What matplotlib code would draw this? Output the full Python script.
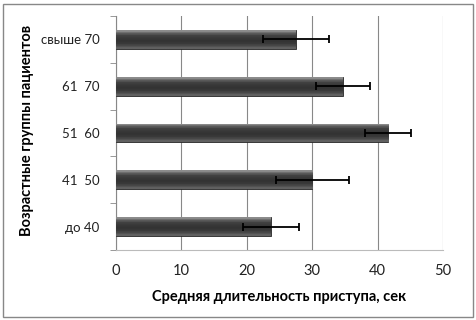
import numpy as np
import matplotlib.pyplot as plt
from matplotlib.patches import Rectangle

# age groups (bottom to top) and mean attack duration with error
groups = ["до 40", "41  50", "51  60", "61  70", "свыше 70"]
means = [23.7, 30.0, 41.6, 34.7, 27.5]
errs = [4.3, 5.6, 3.5, 4.1, 5.0]

plt.rcParams['font.family'] = ['Lato', 'DejaVu Sans']

fig = plt.figure(figsize=(4.76, 3.2), dpi=100)
ax = fig.add_axes([116/476, 70/320, 327/476, 234/320])

ypos = np.arange(len(groups))
bars = ax.barh(ypos, means, height=0.4, color="#3c3c3c", edgecolor="#2a2a2a",
               linewidth=0.6, zorder=3)

# vertical gradient to mimic the shaded bars
grad = np.array([0.55, 0.35, 0.25, 0.22, 0.2, 0.22, 0.28, 0.38]).reshape(-1, 1)
for b in bars:
    x0, y0, w, h = b.get_x(), b.get_y(), b.get_width(), b.get_height()
    im = ax.imshow(grad, cmap="gray", vmin=0, vmax=1, aspect="auto",
                   extent=(x0, x0 + w, y0, y0 + h), origin="upper", zorder=4)
    im.set_clip_path(b)

ax.errorbar(means, ypos, xerr=errs, fmt="none", ecolor="black", elinewidth=1.3,
            capsize=3, capthick=1.3, zorder=5)

ax.set_xlim(0, 50)
ax.set_ylim(-0.5, 4.5)
ax.set_xticks([0, 10, 20, 30, 40, 50])
ax.set_yticks(ypos)
ax.set_yticklabels(groups)
ax.set_yticks(np.arange(-0.5, 5, 1), minor=True)
ax.tick_params(axis="y", which="major", length=0, pad=12, labelsize=9.5, colors="#222222")
ax.tick_params(axis="y", which="minor", length=4, direction="out", color="#888888")
ax.tick_params(axis="x", length=0, pad=10, labelsize=10.5, colors="#222222")
ax.grid(axis="x", color="#888888", linewidth=0.8, zorder=0)
ax.set_axisbelow(True)
for s in ["top", "right"]:
    ax.spines[s].set_visible(False)
ax.spines["left"].set_color("#888888")
ax.spines["bottom"].set_color("#bbbbbb")

ax.set_xlabel("Средняя длительность приступа, сек", fontsize=10.5, fontweight="bold", labelpad=9)
ax.set_ylabel("Возрастные группы пациентов", fontsize=10.5, fontweight="bold")
ax.yaxis.set_label_coords(-0.25, 0.51)

fig.patches.append(Rectangle((3/476, 3/320), 470/476, 313/320, transform=fig.transFigure,
                             fill=False, edgecolor="#888888", linewidth=1))

fig.savefig("out.png", dpi=100)
